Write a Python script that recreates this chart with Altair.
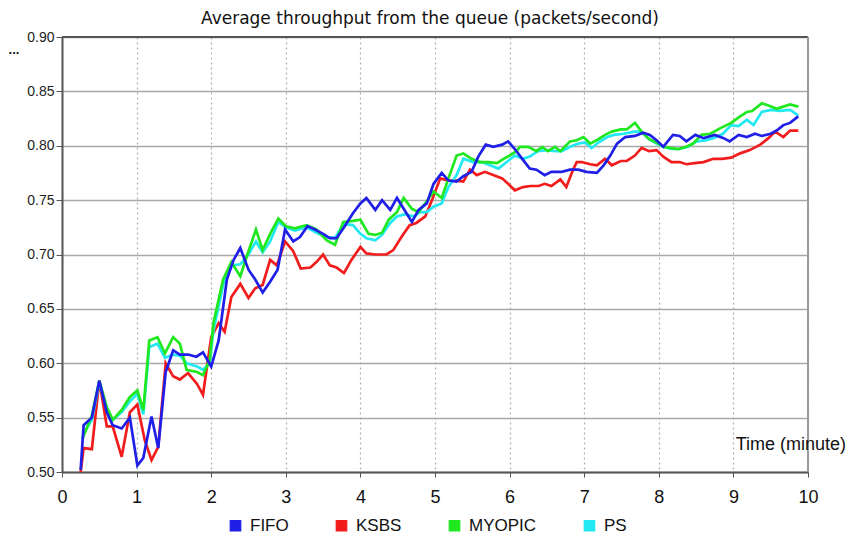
import altair as alt
import pandas as pd

series_names = ["FIFO", "KSBS", "MYOPIC", "PS"]
series_colors = ["#1f1fe8", "#f21c1c", "#1fe81f", "#22e8f2"]

fifo_x = [0.25, 0.29, 0.40, 0.50, 0.60, 0.68, 0.80, 0.91, 1.01, 1.09, 1.20, 1.29, 1.39, 1.49, 1.58, 1.69, 1.80, 1.89, 2.00,
          2.10, 2.21, 2.30, 2.39, 2.50, 2.59, 2.69, 2.79, 2.89, 2.99, 3.10, 3.19, 3.29, 3.39, 3.50, 3.59, 3.68, 3.79, 3.90,
          4.00, 4.08, 4.20, 4.29, 4.40, 4.49, 4.58, 4.69, 4.78, 4.89, 4.98, 5.09, 5.18, 5.29, 5.38, 5.49, 5.58, 5.68, 5.78,
          5.90, 5.98, 6.07, 6.18, 6.27, 6.36, 6.47, 6.56, 6.70, 6.81, 6.92, 7.03, 7.17, 7.26, 7.35, 7.44, 7.55, 7.68, 7.79,
          7.88, 7.97, 8.06, 8.19, 8.28, 8.37, 8.49, 8.60, 8.75, 8.87, 8.95, 9.07, 9.18, 9.29, 9.38, 9.50, 9.58, 9.67, 9.76, 9.87]
fifo_y = [0.502, 0.543, 0.550, 0.584, 0.555, 0.543, 0.540, 0.550, 0.506, 0.513, 0.551, 0.522, 0.592, 0.612, 0.608, 0.608, 0.606, 0.610, 0.597,
          0.621, 0.677, 0.695, 0.706, 0.686, 0.677, 0.665, 0.675, 0.686, 0.723, 0.712, 0.716, 0.726, 0.723, 0.719, 0.715, 0.715, 0.726, 0.738,
          0.747, 0.752, 0.741, 0.750, 0.741, 0.752, 0.742, 0.730, 0.741, 0.747, 0.765, 0.775, 0.768, 0.767, 0.772, 0.776, 0.790, 0.801, 0.799,
          0.801, 0.804, 0.797, 0.787, 0.779, 0.778, 0.773, 0.776, 0.776, 0.778, 0.778, 0.776, 0.775, 0.782, 0.791, 0.802, 0.808, 0.809, 0.812,
          0.810, 0.805, 0.799, 0.810, 0.809, 0.804, 0.810, 0.807, 0.810, 0.807, 0.804, 0.810, 0.808, 0.811, 0.809, 0.811, 0.814, 0.819, 0.821, 0.827]

ksbs_x = [0.25, 0.29, 0.40, 0.50, 0.60, 0.68, 0.80, 0.91, 1.01, 1.11, 1.20, 1.29, 1.39, 1.49, 1.58, 1.69, 1.81, 1.89, 2.00,
          2.10, 2.18, 2.27, 2.39, 2.50, 2.59, 2.69, 2.79, 2.88, 2.99, 3.10, 3.20, 3.33, 3.41, 3.50, 3.59, 3.68, 3.78, 3.88,
          4.00, 4.08, 4.20, 4.35, 4.44, 4.55, 4.66, 4.75, 4.87, 4.96, 5.07, 5.18, 5.29, 5.38, 5.47, 5.56, 5.67, 5.78, 5.90,
          5.98, 6.07, 6.18, 6.28, 6.39, 6.47, 6.56, 6.68, 6.76, 6.85, 6.90, 6.97, 7.08, 7.17, 7.28, 7.37, 7.49, 7.57, 7.68,
          7.77, 7.87, 7.97, 8.06, 8.17, 8.28, 8.37, 8.48, 8.60, 8.73, 8.85, 8.97, 9.09, 9.22, 9.36, 9.47, 9.56, 9.67, 9.76, 9.87]
ksbs_y = [0.500, 0.522, 0.521, 0.584, 0.542, 0.542, 0.514, 0.555, 0.562, 0.529, 0.511, 0.523, 0.600, 0.588, 0.585, 0.591, 0.581, 0.571, 0.624,
          0.637, 0.629, 0.661, 0.673, 0.660, 0.669, 0.672, 0.695, 0.690, 0.712, 0.703, 0.687, 0.688, 0.693, 0.700, 0.690, 0.688, 0.683, 0.695,
          0.707, 0.701, 0.700, 0.700, 0.704, 0.716, 0.727, 0.729, 0.735, 0.750, 0.770, 0.768, 0.768, 0.767, 0.778, 0.773, 0.776, 0.773, 0.770,
          0.765, 0.759, 0.762, 0.763, 0.763, 0.765, 0.763, 0.769, 0.762, 0.778, 0.785, 0.785, 0.783, 0.782, 0.788, 0.782, 0.786, 0.786, 0.791,
          0.798, 0.795, 0.796, 0.790, 0.785, 0.785, 0.783, 0.784, 0.785, 0.788, 0.788, 0.789, 0.793, 0.796, 0.801, 0.807, 0.813, 0.808, 0.814, 0.814]

myopic_x = [0.27, 0.40, 0.50, 0.60, 0.68, 0.80, 0.91, 1.01, 1.09, 1.17, 1.28, 1.38, 1.49, 1.58, 1.67, 1.81, 1.89, 1.98,
            2.03, 2.16, 2.27, 2.39, 2.50, 2.60, 2.69, 2.79, 2.90, 3.00, 3.12, 3.28, 3.41, 3.55, 3.66, 3.77, 3.90,
            4.00, 4.11, 4.20, 4.29, 4.38, 4.49, 4.58, 4.69, 4.78, 4.89, 4.98, 5.09, 5.18, 5.29, 5.38, 5.49, 5.60, 5.71,
            5.83, 5.92, 6.00, 6.09, 6.14, 6.25, 6.36, 6.44, 6.51, 6.61, 6.68, 6.81, 6.90, 6.99, 7.08, 7.19, 7.28, 7.37,
            7.49, 7.57, 7.68, 7.77, 7.87, 7.97, 8.06, 8.15, 8.26, 8.37, 8.46, 8.57, 8.69, 8.82, 8.97, 9.09, 9.18, 9.25,
            9.38, 9.47, 9.58, 9.67, 9.76, 9.87]
myopic_y = [0.530, 0.552, 0.584, 0.560, 0.548, 0.557, 0.569, 0.575, 0.557, 0.621, 0.624, 0.609, 0.624, 0.618, 0.594, 0.592, 0.589, 0.603,
            0.637, 0.677, 0.693, 0.680, 0.703, 0.723, 0.704, 0.719, 0.733, 0.726, 0.724, 0.727, 0.723, 0.713, 0.709, 0.730, 0.731,
            0.732, 0.719, 0.718, 0.720, 0.732, 0.739, 0.752, 0.742, 0.739, 0.749, 0.758, 0.752, 0.770, 0.791, 0.793, 0.788, 0.785, 0.785,
            0.784, 0.788, 0.791, 0.795, 0.799, 0.799, 0.795, 0.799, 0.795, 0.799, 0.795, 0.804, 0.805, 0.808, 0.802, 0.806, 0.810, 0.813,
            0.815, 0.815, 0.821, 0.813, 0.806, 0.803, 0.799, 0.798, 0.797, 0.799, 0.802, 0.810, 0.811, 0.816, 0.821, 0.827, 0.831, 0.832,
            0.839, 0.837, 0.834, 0.836, 0.838, 0.836]

ps_x = [0.29, 0.40, 0.50, 0.60, 0.68, 0.80, 0.91, 1.01, 1.09, 1.17, 1.28, 1.38, 1.49, 1.58, 1.67, 1.81, 1.89, 1.98,
        2.03, 2.16, 2.27, 2.39, 2.50, 2.60, 2.69, 2.79, 2.90, 3.00, 3.12, 3.28, 3.41, 3.55, 3.66, 3.77, 3.90,
        4.00, 4.08, 4.20, 4.29, 4.40, 4.49, 4.60, 4.72, 4.80, 4.89, 4.98, 5.09, 5.18, 5.29, 5.38, 5.51, 5.62, 5.74,
        5.85, 5.96, 6.07, 6.18, 6.27, 6.38, 6.50, 6.61, 6.70, 6.81, 6.92, 7.01, 7.10, 7.19, 7.31, 7.40, 7.53, 7.67,
        7.76, 7.87, 7.97, 8.06, 8.17, 8.28, 8.39, 8.51, 8.62, 8.73, 8.86, 8.97, 9.07, 9.18, 9.27, 9.38, 9.50, 9.63,
        9.76, 9.87]
ps_y = [0.535, 0.548, 0.582, 0.558, 0.548, 0.555, 0.565, 0.572, 0.553, 0.615, 0.618, 0.605, 0.608, 0.607, 0.600, 0.597, 0.594, 0.600,
        0.630, 0.672, 0.690, 0.691, 0.700, 0.712, 0.702, 0.712, 0.730, 0.725, 0.722, 0.725, 0.720, 0.716, 0.715, 0.728, 0.727,
        0.719, 0.715, 0.713, 0.718, 0.729, 0.735, 0.737, 0.735, 0.739, 0.739, 0.744, 0.747, 0.762, 0.773, 0.788, 0.785, 0.785, 0.782,
        0.779, 0.785, 0.791, 0.788, 0.790, 0.795, 0.796, 0.795, 0.795, 0.799, 0.802, 0.803, 0.798, 0.803, 0.808, 0.810, 0.811, 0.813,
        0.813, 0.806, 0.802, 0.799, 0.797, 0.797, 0.799, 0.804, 0.805, 0.807, 0.811, 0.819, 0.818, 0.824, 0.819, 0.831, 0.833, 0.832,
        0.833, 0.828]

y_ticks = [0.50, 0.55, 0.60, 0.65, 0.70, 0.75, 0.80, 0.85, 0.90]
x_ticks = list(range(0, 11))

title_text = "Average throughput from the queue (packets/second)"
x_title_text = "Time (minute)"
y_title_text = "..."

W, H = 746, 435
FONT = "Liberation Sans"

frames = []
for name, xs, ys in [("FIFO", fifo_x, fifo_y), ("KSBS", ksbs_x, ksbs_y),
                     ("MYOPIC", myopic_x, myopic_y), ("PS", ps_x, ps_y)]:
    frames.append(pd.DataFrame({"t": xs, "v": ys, "series": name}))
df = pd.concat(frames, ignore_index=True)

color_scale = alt.Scale(domain=series_names, range=series_colors)

xenc = alt.X("t:Q", scale=alt.Scale(domain=[0, 10], nice=False),
             axis=alt.Axis(values=x_ticks, format="d", title=None, labelFontSize=18,
                           labelPadding=11, tickSize=5, grid=True, gridDash=[2, 3],
                           gridColor="#b0b0b0", gridWidth=1.2, domainColor="#555555",
                           domainWidth=2, tickColor="#555555", labelColor="#111111",
                           labelFont=FONT, labelFlush=False))
yenc = alt.Y("v:Q", scale=alt.Scale(domain=[0.5, 0.9], nice=False, zero=False),
             axis=alt.Axis(values=y_ticks, format=".2f", title=None, labelFontSize=14,
                           labelPadding=2, tickSize=6, grid=True, gridColor="#a8a8a8",
                           gridWidth=1.5, domainColor="#555555", domainWidth=2,
                           tickColor="#555555", labelColor="#222222", labelFont=FONT,
                           labelFlush=False))

legend = alt.Legend(title=None, orient="none", legendX=165, legendY=480, direction="horizontal",
                    symbolType="square", symbolSize=110, labelFontSize=17, labelFont=FONT,
                    labelColor="#111111", columnPadding=44, symbolStrokeWidth=1.2,
                    symbolStrokeColor="#333333", symbolOpacity=1, labelOffset=6)

layers = []
for name in ["KSBS", "PS", "MYOPIC", "FIFO"]:
    layers.append(
        alt.Chart(df).transform_filter(alt.datum.series == name).mark_line(strokeWidth=2.7).encode(
            x=xenc, y=yenc,
            color=alt.Color("series:N", scale=color_scale, legend=None),
        )
    )

legend_layer = alt.Chart(df).transform_filter("datum.v > 5").mark_square(
    filled=True, size=110, stroke="#333333", strokeWidth=1.2, opacity=1).encode(
    x=xenc, y=yenc,
    color=alt.Color("series:N", scale=color_scale, legend=legend),
)

top_rule = alt.Chart(df).mark_rule(color="#555555", strokeWidth=2).encode(
    x=alt.value(0), x2=alt.value(W), y=alt.value(0))
right_rule = alt.Chart(df).mark_rule(color="#9a9a9a", strokeWidth=2).encode(
    x=alt.value(W), y=alt.value(0), y2=alt.value(H))

title_mark = alt.Chart(pd.DataFrame({"s": [title_text]})).mark_text(
    font="DejaVu Sans", fontSize=17, color="#111111", align="center", baseline="alphabetic").encode(
    text="s:N", x=alt.value(368), y=alt.value(-13))
xtitle_mark = alt.Chart(pd.DataFrame({"s": [x_title_text]})).mark_text(
    font=FONT, fontSize=18, color="#111111", align="right", baseline="alphabetic").encode(
    text="s:N", x=alt.value(784), y=alt.value(413))
ytitle_mark = alt.Chart(pd.DataFrame({"s": [y_title_text]})).mark_text(
    font=FONT, fontSize=13, fontWeight="bold", color="#111111", align="center", baseline="alphabetic").encode(
    text="s:N", x=alt.value(-48), y=alt.value(17))

chart = alt.layer(legend_layer, *layers, top_rule, right_rule, title_mark, xtitle_mark, ytitle_mark).properties(
    width=W, height=H,
    autosize=alt.AutoSizeParams(type="none"),
    padding={"left": 54, "top": 29, "right": 39, "bottom": 66},
).configure_view(stroke=None).configure(background="white")

chart.save("out.html", embed_options={"renderer": "svg", "actions": False})
